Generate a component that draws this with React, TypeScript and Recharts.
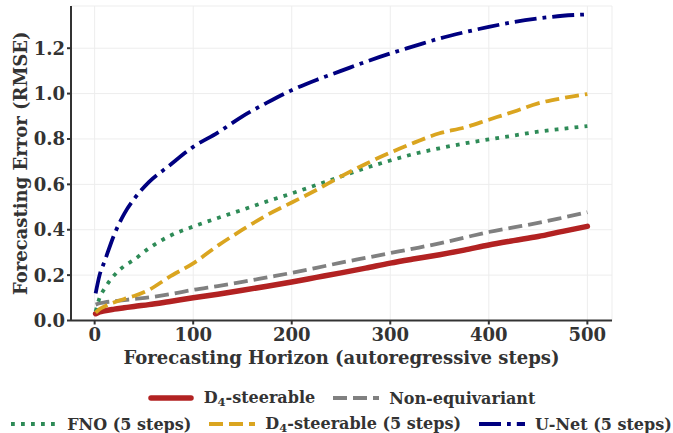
import React from 'react';
import { LineChart, Line, XAxis, YAxis, CartesianGrid } from 'recharts';

const steps = [1, 5, 10, 20, 30, 40, 55, 75, 100, 125, 150, 175, 200, 225, 250, 275, 300, 325, 350, 375, 400, 425, 450, 475, 500];

const d4Steerable = [0.03, 0.038, 0.043, 0.05, 0.056, 0.062, 0.07, 0.083, 0.1, 0.116, 0.133, 0.151, 0.17, 0.19, 0.21, 0.231, 0.253, 0.272, 0.29, 0.31, 0.333, 0.352, 0.37, 0.393, 0.415];
const nonEquivariant = [0.07, 0.076, 0.08, 0.085, 0.09, 0.095, 0.102, 0.115, 0.135, 0.152, 0.17, 0.19, 0.21, 0.232, 0.255, 0.276, 0.297, 0.318, 0.34, 0.365, 0.39, 0.41, 0.43, 0.453, 0.477];
const fno5 = [0.04, 0.1, 0.14, 0.2, 0.24, 0.268, 0.318, 0.37, 0.414, 0.452, 0.488, 0.525, 0.56, 0.597, 0.635, 0.672, 0.705, 0.735, 0.759, 0.78, 0.798, 0.815, 0.832, 0.845, 0.857];
const d4Steerable5 = [0.035, 0.05, 0.062, 0.08, 0.095, 0.108, 0.135, 0.19, 0.252, 0.33, 0.4, 0.465, 0.52, 0.575, 0.635, 0.69, 0.74, 0.785, 0.825, 0.85, 0.885, 0.92, 0.957, 0.98, 0.998];
const unet5 = [0.12, 0.2, 0.26, 0.38, 0.47, 0.535, 0.61, 0.68, 0.765, 0.828, 0.9, 0.96, 1.015, 1.06, 1.1, 1.14, 1.177, 1.21, 1.243, 1.27, 1.294, 1.315, 1.331, 1.343, 1.349];

const xTicks = [0, 100, 200, 300, 400, 500];
const yTicks = [0, 0.2, 0.4, 0.6, 0.8, 1.0, 1.2];

const data = steps.map((step, i) => ({
  step,
  d4: d4Steerable[i],
  noneq: nonEquivariant[i],
  fno: fno5[i],
  d4s5: d4Steerable5[i],
  unet: unet5[i],
}));

const FONT = '"DejaVu Serif", serif';
const INK = '#333333';

const series = [
  { key: 'd4', name: 'D4-steerable', color: '#b22222', width: 5.5, dash: undefined as string | undefined, cap: 'round' as const },
  { key: 'noneq', name: 'Non-equivariant', color: '#808080', width: 3.8, dash: '14 6', cap: 'butt' as const },
  { key: 'fno', name: 'FNO (5 steps)', color: '#2e8b57', width: 3.8, dash: '3.8 6.2', cap: 'butt' as const },
  { key: 'd4s5', name: 'D4-steerable (5 steps)', color: '#daa520', width: 3.8, dash: '14 6', cap: 'butt' as const },
  { key: 'unet', name: 'U-Net (5 steps)', color: '#000080', width: 3.8, dash: '22 6 3.8 6', cap: 'butt' as const },
];

const labelText = (name: string) =>
  name.startsWith('D4') ? (
    <>
      D<sub style={{ fontSize: '0.72em', verticalAlign: '-0.25em' }}>4</sub>
      {name.slice(2)}
    </>
  ) : (
    name
  );

const LegendItem = ({ s, last }: { s: (typeof series)[number]; last?: boolean }) => (
  <span style={{ display: 'inline-flex', alignItems: 'center', marginRight: last ? 0 : 18 }}>
    <svg width={46} height={10} style={{ marginRight: 10 }}>
      <line
        x1={s.cap === 'round' ? 3 : 0}
        x2={s.cap === 'round' ? 43 : 46}
        y1={5}
        y2={5}
        stroke={s.color}
        strokeWidth={s.width}
        strokeDasharray={s.dash}
        strokeLinecap={s.cap}
      />
    </svg>
    <span>{labelText(s.name)}</span>
  </span>
);

const ChartLegend = () => (
  <div
    style={{
      position: 'absolute',
      top: 385,
      left: 0,
      width: 683,
      fontFamily: FONT,
      fontWeight: 'bold',
      fontSize: 16,
      color: INK,
      whiteSpace: 'nowrap',
    }}
  >
    <div style={{ display: 'flex', justifyContent: 'center', height: 26, alignItems: 'center' }}>
      <LegendItem s={series[0]} />
      <LegendItem s={series[1]} last />
    </div>
    <div style={{ display: 'flex', justifyContent: 'center', height: 26, alignItems: 'center' }}>
      <LegendItem s={series[2]} />
      <LegendItem s={series[3]} />
      <LegendItem s={series[4]} last />
    </div>
  </div>
);

export default function App() {
  const tickStyle = { fill: INK, fontSize: 18, fontFamily: FONT, fontWeight: 'bold' };

  return (
    <div style={{ position: 'absolute', left: 0, top: 0, width: 673, height: 433, background: 'white', overflow: 'hidden' }}>
      <LineChart width={673} height={433} data={data} margin={{ top: 6, right: 61, left: 0, bottom: 52.5 }}>
        <CartesianGrid stroke="#ededed" strokeWidth={1} />
        <XAxis
          dataKey="step"
          type="number"
          domain={[-24, 525]}
          ticks={xTicks}
          allowDataOverflow
          height={60}
          tick={tickStyle}
          tickSize={4}
          tickMargin={4}
          axisLine={{ stroke: INK, strokeWidth: 2 }}
          tickLine={{ stroke: INK, strokeWidth: 2 }}
          label={(props: any) => {
            const vb = props.viewBox;
            return (
              <text
                x={vb.x + vb.width / 2}
                y={357}
                textAnchor="middle"
                dominantBaseline="central"
                fill={INK}
                fontSize={18}
                fontWeight="bold"
                fontFamily={FONT}
              >
                Forecasting Horizon (autoregressive steps)
              </text>
            );
          }}
        />
        <YAxis
          type="number"
          domain={[0, 1.386]}
          ticks={yTicks}
          allowDataOverflow
          width={71}
          tick={tickStyle}
          tickSize={4}
          tickMargin={2}
          tickFormatter={(v: number) => v.toFixed(1)}
          axisLine={{ stroke: INK, strokeWidth: 2 }}
          tickLine={{ stroke: INK, strokeWidth: 2 }}
          label={(props: any) => {
            const vb = props.viewBox;
            const cy = vb.y + vb.height / 2;
            return (
              <text
                x={20.5}
                y={cy}
                transform={`rotate(-90, 20.5, ${cy})`}
                textAnchor="middle"
                dominantBaseline="central"
                fill={INK}
                fontSize={18}
                fontWeight="bold"
                fontFamily={FONT}
              >
                Forecasting Error (RMSE)
              </text>
            );
          }}
        />
        {series.map((s) => (
          <Line
            key={s.key}
            type="monotone"
            dataKey={s.key}
            name={s.name}
            stroke={s.color}
            strokeWidth={s.width}
            strokeDasharray={s.dash}
            strokeLinecap={s.cap}
            dot={false}
            activeDot={false}
            isAnimationActive={false}
          />
        ))}
      </LineChart>
      <ChartLegend />
    </div>
  );
}
